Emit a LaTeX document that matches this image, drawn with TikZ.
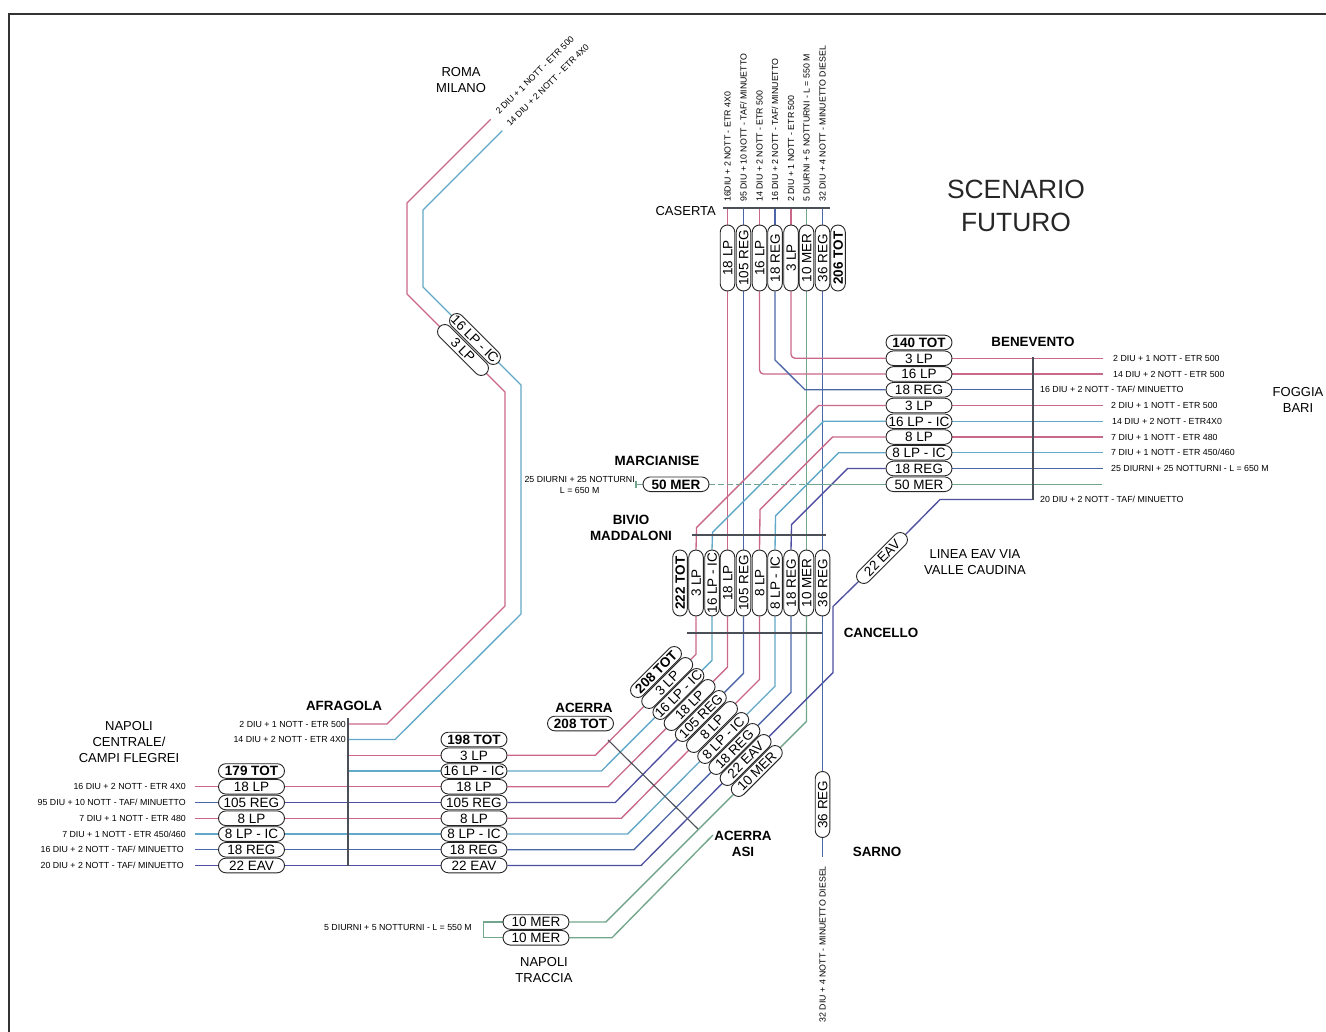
\documentclass[tikz,border=0pt]{standalone}
\usepackage{fontspec}
\setmainfont{Liberation Sans}
\usetikzlibrary{shapes.misc,backgrounds}
\definecolor{lp_col}{HTML}{C9688A}
\definecolor{ic_col}{HTML}{62A8C8}
\definecolor{reg_col}{HTML}{4C67A8}
\definecolor{mer_col}{HTML}{72A68C}
\definecolor{eav_col}{HTML}{4F4FA0}
\definecolor{bar_col}{HTML}{4A4F58}
\begin{document}
\begin{tikzpicture}[
        x=1pt,
        y=-1pt,
        node distance=15.75pt,
        % pill on a track
        pill/.style={
            rounded rectangle,
            draw=black!85,
            fill=white,
            line width=0.9pt,
            minimum width=66pt,
            minimum height=14.6pt,
            inner sep=0pt,
            text height=9.6pt,
            text depth=0pt,
            font=\fontsize{13.5}{14}\selectfont
        },
        pill_up/.style={pill, rotate=90},
        pill_diag/.style={pill, rotate=45},
        pill_down/.style={pill, rotate=-45},
        % track colours
        line_lp/.style={draw=lp_col, line width=1.35pt},
        line_ic/.style={draw=ic_col, line width=1.35pt},
        line_reg/.style={draw=reg_col, line width=1.35pt},
        line_mer/.style={draw=mer_col, line width=1.35pt},
        line_eav/.style={draw=eav_col, line width=1.35pt},
        bar/.style={draw=bar_col, line width=1.1pt},
        % small texts at the end of a track
        label_text/.style={
            inner sep=0pt,
            font=\fontsize{8.8}{11}\selectfont
        },
        place_text/.style={
            inner sep=0pt,
            align=center,
            font=\fontsize{13}{15.8}\selectfont
        },
        place_bold/.style={
            inner sep=0pt,
            align=center,
            font=\fontsize{13.4}{16}\selectfont\bfseries
        }
    ]
    \useasboundingbox (0,0) rectangle (1326,1032);

    % --- 1. frame and titles ---
    \draw[line width=1.2pt, black!80] (1326,14) -- (9,14) -- (9,1032);
    \node (title) [inner sep=0pt, align=center, font=\fontsize{26.4}{33}\selectfont, text=black!85] at (1016,206) {SCENARIO\\FUTURO};
    \node (roma) [place_text] at (461,80) {ROMA\\MILANO};
    \node (napoli) [place_text] at (129,742) {NAPOLI\\CENTRALE/\\CAMPI FLEGREI};
    \node (foggia) [place_text] at (1298,400) {FOGGIA\\BARI};
    \node (caserta) [place_text, anchor=east] at (716,211) {CASERTA};
    \node (via) [place_text] at (975,562) {LINEA EAV VIA\\VALLE CAUDINA};
    \node (traccia) [place_text] at (544,970) {NAPOLI\\TRACCIA};
    \node (benevento) [place_bold] at (1033,342) {BENEVENTO};
    \node (marcianise) [place_bold] at (657,461) {MARCIANISE};
    \node (bivio) [place_bold] at (631,528) {BIVIO\\MADDALONI};
    \node (cancello) [place_bold] at (881,633) {CANCELLO};
    \node (afragola) [place_bold] at (344,706) {AFRAGOLA};
    \node (acerra) [place_bold] at (584,708) {ACERRA};
    \node (asi) [place_bold] at (743,844) {ACERRA\\ASI};
    \node (sarno) [place_bold] at (877,852) {SARNO};

    % --- 2. pills, left stack ---
    \node (nap_tot) [pill] at (251.5,771) {\textbf{179 TOT}};
    \node (nap_lp) [pill, below of=nap_tot] {18 LP};
    \node (nap_reg) [pill, below of=nap_lp] {105 REG};
    \node (nap_lpb) [pill, below of=nap_reg] {8 LP};
    \node (nap_ic) [pill, below of=nap_lpb] {8 LP - IC};
    \node (nap_regb) [pill, below of=nap_ic] {18 REG};
    \node (nap_eav) [pill, below of=nap_regb] {22 EAV};

    % pills, after Afragola
    \node (mid_tot) [pill] at (474,739.5) {\textbf{198 TOT}};
    \node (mid_lpc) [pill, below of=mid_tot] {3 LP};
    \node (mid_icc) [pill, below of=mid_lpc] {16 LP - IC};
    \node (mid_lp) [pill, below of=mid_icc] {18 LP};
    \node (mid_reg) [pill, below of=mid_lp] {105 REG};
    \node (mid_lpb) [pill, below of=mid_reg] {8 LP};
    \node (mid_ic) [pill, below of=mid_lpb] {8 LP - IC};
    \node (mid_regb) [pill, below of=mid_ic] {18 REG};
    \node (mid_eav) [pill, below of=mid_regb] {22 EAV};

    % pills, Napoli Traccia and Acerra
    \node (tra_a) [pill] at (536,922) {10 MER};
    \node (tra_b) [pill, below of=tra_a] {10 MER};
    \node (ace_tot) [pill] at (580.5,723.5) {\textbf{208 TOT}};

    % pills, on the diagonal
    \node (dia_tot) [pill_diag] at (656,672) {\textbf{208 TOT}};
    \node (dia_lpc) [pill_diag] at (667.2,683) {3 LP};
    \node (dia_icc) [pill_diag] at (678.4,694) {16 LP - IC};
    \node (dia_lp) [pill_diag] at (689.6,705) {18 LP};
    \node (dia_reg) [pill_diag] at (700.8,716) {105 REG};
    \node (dia_lpb) [pill_diag] at (712,727) {8 LP};
    \node (dia_ic) [pill_diag] at (723.2,738) {8 LP - IC};
    \node (dia_regb) [pill_diag] at (734.4,749) {18 REG};
    \node (dia_eav) [pill_diag] at (745.6,760) {22 EAV};
    \node (dia_mer) [pill_diag] at (756.8,771) {10 MER};
    \node (eav_via) [pill_diag] at (882,558) {22 EAV};

    % pills, Bivio Maddaloni
    \node (biv_tot) [pill_up] at (680,583) {\textbf{222 TOT}};
    \node (biv_lpc) [pill_up] at (696,583) {3 LP};
    \node (biv_icc) [pill_up] at (712,583) {16 LP - IC};
    \node (biv_lp) [pill_up] at (727.5,583) {18 LP};
    \node (biv_reg) [pill_up] at (743.5,583) {105 REG};
    \node (biv_lpb) [pill_up] at (759.5,583) {8 LP};
    \node (biv_ic) [pill_up] at (775,583) {8 LP - IC};
    \node (biv_regb) [pill_up] at (791,583) {18 REG};
    \node (biv_mer) [pill_up] at (806.5,583) {10 MER};
    \node (biv_rec) [pill_up] at (822.5,583) {36 REG};

    % pills, Caserta
    \node (cas_lp) [pill_up] at (727.5,258) {18 LP};
    \node (cas_reg) [pill_up] at (743.5,258) {105 REG};
    \node (cas_lpd) [pill_up] at (759.5,258) {16 LP};
    \node (cas_regb) [pill_up] at (775,258) {18 REG};
    \node (cas_lpc) [pill_up] at (791,258) {3 LP};
    \node (cas_mer) [pill_up] at (806.5,258) {10 MER};
    \node (cas_rec) [pill_up] at (822.5,258) {36 REG};
    \node (cas_tot) [pill_up] at (838,258) {\textbf{206 TOT}};

    % pills, Benevento
    \node (ben_tot) [pill] at (919,342.5) {\textbf{140 TOT}};
    \node (ben_lpc) [pill, below of=ben_tot] {3 LP};
    \node (ben_lpd) [pill, below of=ben_lpc] {16 LP};
    \node (ben_regb) [pill, below of=ben_lpd] {18 REG};
    \node (ben_lpe) [pill, below of=ben_regb] {3 LP};
    \node (ben_icc) [pill, below of=ben_lpe] {16 LP - IC};
    \node (ben_lpb) [pill, below of=ben_icc] {8 LP};
    \node (ben_ic) [pill, below of=ben_lpb] {8 LP - IC};
    \node (ben_rega) [pill, below of=ben_ic] {18 REG};
    \node (ben_mer) [pill, below of=ben_rega] {50 MER};

    % other pills
    \node (mar_mer) [pill] at (676,484.25) {\textbf{50 MER}};
    \node (sar_rec) [pill_up] at (822.5,804.5) {36 REG};
    \node (rom_lp) [pill_down] at (463,350) {3 LP};
    \node (rom_ic) [pill_down] at (475,339) {16 LP - IC};

    % --- 3. small texts ---
    \node (t_nap_lp) [label_text, anchor=east] at (186,786.75) {16 DIU + 2 NOTT - ETR 4X0};
    \node (t_nap_reg) [label_text, anchor=east] at (186,802.5) {95 DIU + 10 NOTT - TAF/ MINUETTO};
    \node (t_nap_lpb) [label_text, anchor=east] at (186,818.25) {7 DIU + 1 NOTT - ETR 480};
    \node (t_nap_ic) [label_text, anchor=east] at (186,834) {7 DIU + 1 NOTT - ETR 450/460};
    \node (t_nap_regb) [label_text, anchor=east] at (184,849.75) {16 DIU + 2 NOTT - TAF/ MINUETTO};
    \node (t_nap_eav) [label_text, anchor=east] at (184,865.5) {20 DIU + 2 NOTT - TAF/ MINUETTO};
    \node (t_afr_lp) [label_text, anchor=east] at (346,724) {2 DIU + 1 NOTT - ETR 500};
    \node (t_afr_ic) [label_text, anchor=east] at (346,739.5) {14 DIU + 2 NOTT - ETR 4X0};
    \node (t_tra) [label_text, anchor=east] at (472,927) {5 DIURNI + 5 NOTTURNI - L = 550 M};
    \node (t_rom_lp) [label_text, anchor=west, rotate=45] at (497,113) {2 DIU + 1 NOTT - ETR 500};
    \node (t_rom_ic) [label_text, anchor=west, rotate=45] at (508,125) {14 DIU + 2 NOTT - ETR 4X0};
    \node (t_cas_lp) [label_text, anchor=west, rotate=90] at (727.5,202) {16DIU + 2 NOTT - ETR 4X0};
    \node (t_cas_reg) [label_text, anchor=west, rotate=90] at (743.5,202) {95 DIU + 10 NOTT - TAF/ MINUETTO};
    \node (t_cas_lpd) [label_text, anchor=west, rotate=90] at (759.5,202) {14 DIU + 2 NOTT - ETR 500};
    \node (t_cas_regb) [label_text, anchor=west, rotate=90] at (775,202) {16 DIU + 2 NOTT - TAF/ MINUETTO};
    \node (t_cas_lpc) [label_text, anchor=west, rotate=90] at (791,202) {2 DIU + 1 NOTT - ETR 500};
    \node (t_cas_mer) [label_text, anchor=west, rotate=90] at (806.5,202) {5 DIURNI + 5 NOTTURNI - L = 550 M};
    \node (t_cas_rec) [label_text, anchor=west, rotate=90] at (822.5,202) {32 DIU + 4 NOTT - MINUETTO DIESEL};
    \node (t_ben_lpc) [label_text, anchor=west] at (1113,358.25) {2 DIU + 1 NOTT - ETR 500};
    \node (t_ben_lpd) [label_text, anchor=west] at (1113,374) {14 DIU + 2 NOTT - ETR 500};
    \node (t_ben_regb) [label_text, anchor=west] at (1040,389.75) {16 DIU + 2 NOTT - TAF/ MINUETTO};
    \node (t_ben_lpe) [label_text, anchor=west] at (1111,405.5) {2 DIU + 1 NOTT - ETR 500};
    \node (t_ben_icc) [label_text, anchor=west] at (1112,421.25) {14 DIU + 2 NOTT - ETR4X0};
    \node (t_ben_lpb) [label_text, anchor=west] at (1111,437) {7 DIU + 1 NOTT - ETR 480};
    \node (t_ben_ic) [label_text, anchor=west] at (1111,452.75) {7 DIU + 1 NOTT - ETR 450/460};
    \node (t_ben_rega) [label_text, anchor=west] at (1111,468.5) {25 DIURNI + 25 NOTTURNI - L = 650 M};
    \node (t_ben_eav) [label_text, anchor=west] at (1040,499.5) {20 DIU + 2 NOTT - TAF/ MINUETTO};
    \node (t_mar) [label_text, anchor=east, align=center] at (635,484.5) {25 DIURNI + 25 NOTTURNI\\L = 650 M};
    \node (t_sar) [label_text, anchor=east, rotate=90] at (822.5,866) {32 DIU + 4 NOTT - MINUETTO DIESEL};

    % free ends of the lines
    \coordinate (afr_top) at (348,718);
    \coordinate (afr_bot) at (348,866);
    \coordinate (afr_lpc) at (348,755.25);
    \coordinate (afr_icc) at (348,771);
    \coordinate (ben_top) at (1033,357);
    \coordinate (ben_bot) at (1033,499.5);
    \coordinate (mar_tick) at (636,484.25);
    \coordinate (asi_end) at (710,838);

    \begin{pgfonlayer}{background}

    % --- 4. Napoli to Afragola ---
    \draw[line_lp, shorten <=9pt] (t_nap_lp.east) -- (nap_lp.west);
    \draw[line_reg, shorten <=9pt] (t_nap_reg.east) -- (nap_reg.west);
    \draw[line_lp, shorten <=9pt] (t_nap_lpb.east) -- (nap_lpb.west);
    \draw[line_ic, shorten <=9pt] (t_nap_ic.east) -- (nap_ic.west);
    \draw[line_reg, shorten <=11pt] (t_nap_regb.east) -- (nap_regb.west);
    \draw[line_eav, shorten <=11pt] (t_nap_eav.east) -- (nap_eav.west);
    \draw[line_lp] (nap_lp.east) -- (mid_lp.west);
    \draw[line_eav] (nap_reg.east) -- (mid_reg.west);
    \draw[line_lp] (nap_lpb.east) -- (mid_lpb.west);
    \draw[line_ic] (nap_ic.east) -- (mid_ic.west);
    \draw[line_reg] (nap_regb.east) -- (mid_regb.west);
    \draw[line_eav] (nap_eav.east) -- (mid_eav.west);
    \draw[line_lp] (afr_lpc) -- (mid_lpc.west);
    \draw[line_ic] (afr_icc) -- (mid_icc.west);

    % --- 5. Roma Milano ---
    \draw[line_lp, shorten <=2pt] (t_afr_lp.east) -- ++(41,0) -- (505,606) -- (505,392) -- (rom_lp.east);
    \draw[line_lp, shorten >=9pt] (rom_lp.west) -- (407,294) -- (407,203) -- (t_rom_lp.west);
    \draw[line_ic, shorten <=2pt] (t_afr_ic.east) -- ++(49,0) -- (521,614) -- (521,385) -- (rom_ic.east);
    \draw[line_ic, shorten >=8pt] (rom_ic.west) -- (423,287) -- (423,210) -- (t_rom_ic.west);

    % --- 6. towards the diagonal ---
    \draw[line_lp] (mid_lpc.east) -- ++(88,0) -- (dia_lpc.west);
    \draw[line_ic] (mid_icc.east) -- ++(94,0) -- (dia_icc.west);
    \draw[line_lp] (mid_lp.east) -- ++(100.6,0) -- (dia_lp.west);
    \draw[line_eav] (mid_reg.east) -- ++(107.8,0) -- (dia_reg.west);
    \draw[line_lp] (mid_lpb.east) -- ++(114,0) -- (dia_lpb.west);
    \draw[line_ic] (mid_ic.east) -- ++(120.2,0) -- (dia_ic.west);
    \draw[line_reg] (mid_regb.east) -- ++(126.4,0) -- (dia_regb.west);
    \draw[line_eav] (mid_eav.east) -- ++(133.6,0) -- (dia_eav.west);
    \draw[line_mer] (tra_a.east) -- (605.8,922) -- (dia_mer.west);
    \draw[line_mer] (tra_b.east) -- (612,937.75) -- (asi_end);
    \draw[line_mer] (tra_a.west) -- ++(-19,0) -- ++(0,15.75) -- (tra_b.west);
    \draw[line_mer] ([xshift=-3pt,yshift=-3pt]asi_end) -- ([xshift=3pt,yshift=3pt]asi_end);

    % --- 7. diagonal to Bivio ---
    \draw[line_lp] (dia_lpc.east) -- (696,654.2) -- (biv_lpc.west);
    \draw[line_ic] (dia_icc.east) -- (712,660.4) -- (biv_icc.west);
    \draw[line_lp] (dia_lp.east) -- (727.5,667.1) -- (biv_lp.west);
    \draw[line_reg] (dia_reg.east) -- (743.5,673.3) -- (biv_reg.west);
    \draw[line_lp] (dia_lpb.east) -- (759.5,679.5) -- (biv_lpb.west);
    \draw[line_ic] (dia_ic.east) -- (775,686.2) -- (biv_ic.west);
    \draw[line_reg] (dia_regb.east) -- (791,692.4) -- (biv_regb.west);
    \draw[line_mer] (dia_mer.east) -- (806.5,721.3) -- (biv_mer.west);
    \draw[line_eav] (dia_eav.east) -- (833,672.6) -- (833,606.5) -- (eav_via.west);
    \draw[line_eav] (eav_via.east) -- (940,499.5) -- (ben_bot);

    % --- 8. Bivio to Caserta and Benevento ---
    \draw[line_lp] (biv_lp.east) -- (cas_lp.west);
    \draw[line_reg] (biv_reg.east) -- (cas_reg.west);
    \draw[line_mer] (biv_mer.east) -- (cas_mer.west);
    \draw[line_reg] (biv_rec.east) -- (cas_rec.west);
    \draw[line_reg] (biv_rec.west) -- (sar_rec.east);
    \draw[line_reg, shorten >=9pt] (sar_rec.west) -- (t_sar.east);
    \draw[line_lp] (ben_lpe.west) -- ++(-67,0) -- ++(-122,122) -- (biv_lpc.east);
    \draw[line_ic] (ben_icc.west) -- ++(-62,0) -- ++(-111,111) -- (biv_icc.east);
    \draw[line_lp] (ben_lpb.west) -- ++(-53,0) -- ++(-72.5,72.5) -- (biv_lpb.east);
    \draw[line_ic] (ben_ic.west) -- ++(-47,0) -- ++(-63,63) -- (biv_ic.east);
    \draw[line_eav] (ben_rega.west) -- ++(-38,0) -- ++(-56,56) -- (biv_regb.east);
    \draw[line_lp, rounded corners=4pt] (cas_lpc.west) |- (ben_lpc.west);
    \draw[line_lp, rounded corners=4pt] (cas_lpd.west) |- (ben_lpd.west);
    \draw[line_reg] (cas_regb.west) -- (775,360) -- (805,389.75) -- (ben_regb.west);
    \draw[line_mer, dash pattern=on 6pt off 3pt] (mar_mer.east) -- (807,484.25);
    \draw[line_mer] (807,484.25) -- (ben_mer.west);
    \draw[line_mer] (mar_tick) -- (mar_mer.west);
    \draw[line_mer] (636,480.5) -- (636,488);

    % --- 9. right and top ends ---
    \draw[line_lp, shorten >=10pt] (ben_lpc.east) -- (t_ben_lpc.west);
    \draw[line_lp, shorten >=10pt] (ben_lpd.east) -- (t_ben_lpd.west);
    \draw[line_reg, shorten >=7pt] (ben_regb.east) -- (t_ben_regb.west);
    \draw[line_lp, shorten >=8pt] (ben_lpe.east) -- (t_ben_lpe.west);
    \draw[line_ic, shorten >=9pt] (ben_icc.east) -- (t_ben_icc.west);
    \draw[line_lp, shorten >=8pt] (ben_lpb.east) -- (t_ben_lpb.west);
    \draw[line_ic, shorten >=8pt] (ben_ic.east) -- (t_ben_ic.west);
    \draw[line_reg, shorten >=8pt] (ben_rega.east) -- (t_ben_rega.west);
    \draw[line_mer] (ben_mer.east) -- ++(150,0);
    \draw[line_lp, shorten >=6pt] (cas_lp.east) -- (t_cas_lp.west);
    \draw[line_reg, shorten >=6pt] (cas_reg.east) -- (t_cas_reg.west);
    \draw[line_lp, shorten >=6pt] (cas_lpd.east) -- (t_cas_lpd.west);
    \draw[line_reg, shorten >=6pt] (cas_regb.east) -- (t_cas_regb.west);
    \draw[line_lp, shorten >=6pt] (cas_lpc.east) -- (t_cas_lpc.west);
    \draw[line_mer, shorten >=6pt] (cas_mer.east) -- (t_cas_mer.west);
    \draw[line_reg, shorten >=6pt] (cas_rec.east) -- (t_cas_rec.west);

    % --- 10. station bars ---
    \draw[bar] (afr_top) -- (afr_bot);
    \draw[bar] (ben_top) -- (ben_bot);
    \draw[bar] (723,208) -- (830,208);
    \draw[bar] (692,535) -- (826,535);
    \draw[bar] (687,633) -- (822,633);
    \draw[bar] (608,740) -- (698,829);

    \end{pgfonlayer}

\end{tikzpicture}
\end{document}
